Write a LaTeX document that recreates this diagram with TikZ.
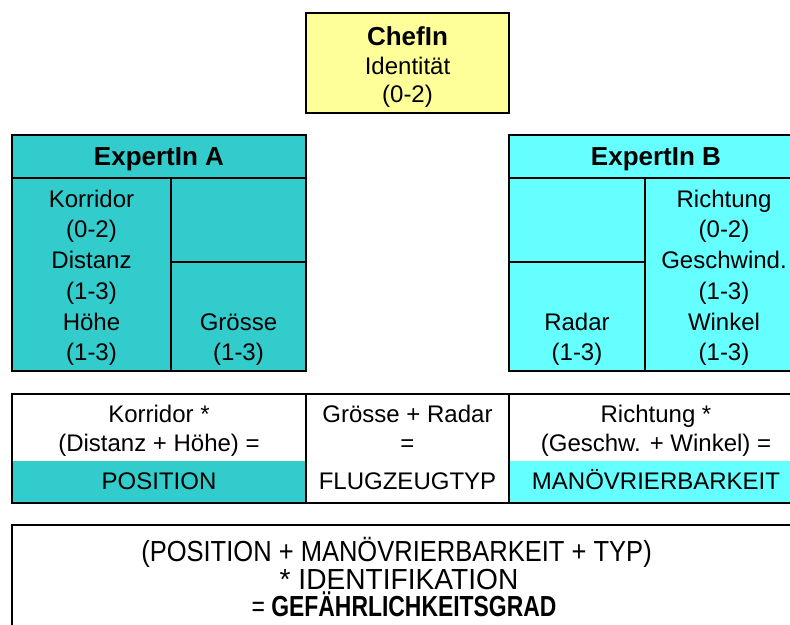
\documentclass[tikz,border=0pt]{standalone}
\usepackage{fontspec}
\usepackage{graphicx}
\setmainfont{Liberation Sans}
\definecolor{chefyellow}{HTML}{FFFF99}
\definecolor{expertA}{HTML}{33CCCC}
\definecolor{expertB}{HTML}{66FFFF}

\begin{document}
\begin{tikzpicture}[x=1pt,y=-1pt,
  frame/.style={draw=black, line width=1.5pt},
  divider/.style={draw=black, line width=1.4pt},
  txt/.style={anchor=base, inner sep=0pt, font=\fontsize{24}{30}\selectfont},
  head/.style={anchor=base, inner sep=0pt, font=\fontsize{26}{31}\selectfont\bfseries},
  sumtxt/.style={anchor=base, inner sep=0pt, font=\fontsize{29}{30}\selectfont},
]
\useasboundingbox (0,0) rectangle (790,624);
\clip (0,0) rectangle (790,624);

% --- ChefIn ---
\draw[frame, fill=chefyellow] (306,13) rectangle (509,113);
\node[head] (chef) at (407.5,45) {ChefIn};
\node[txt] (chef-id) at (407.5,74) {Identität};
\node[txt] (chef-r) at (407.5,102) {(0-2)};

% --- ExpertIn A ---
\draw[frame, fill=expertA] (12,135) rectangle (306,371);
\draw[divider] (12,178) -- (306,178);
\draw[divider] (171,178) -- (171,371);
\draw[divider] (171,262) -- (306,262);
\node[head] (expA) at (159,165) {ExpertIn A};
\node[txt] (a-kor) at (91.5,207) {Korridor};
\node[txt] (a-kor-r) at (91.5,237) {(0-2)};
\node[txt] (a-dist) at (91.5,268) {Distanz};
\node[txt] (a-dist-r) at (91.5,299) {(1-3)};
\node[txt] (a-hoehe) at (91.5,330) {Höhe};
\node[txt] (a-hoehe-r) at (91.5,360) {(1-3)};
\node[txt] (a-gr) at (238.5,330) {Grösse};
\node[txt] (a-gr-r) at (238.5,360) {(1-3)};

% --- ExpertIn B ---
\draw[frame, fill=expertB] (509,135) rectangle (803,371);
\draw[divider] (509,178) -- (803,178);
\draw[divider] (645,178) -- (645,371);
\draw[divider] (509,262) -- (645,262);
\node[head] (expB) at (656,165) {ExpertIn B};
\node[txt] (b-ri) at (724,207) {Richtung};
\node[txt] (b-ri-r) at (724,237) {(0-2)};
\node[txt] (b-ge) at (724,268) {Geschwind.};
\node[txt] (b-ge-r) at (724,299) {(1-3)};
\node[txt] (b-wi) at (724,330) {Winkel};
\node[txt] (b-wi-r) at (724,360) {(1-3)};
\node[txt] (b-ra) at (577,330) {Radar};
\node[txt] (b-ra-r) at (577,360) {(1-3)};

% --- Combination table ---
\fill[white] (12,394) rectangle (803,503);
\fill[expertA] (12,461) rectangle (306,503);
\fill[expertB] (509,461) rectangle (803,503);
\draw[frame] (12,394) rectangle (803,503);
\draw[divider] (306,394) -- (306,503);
\draw[divider] (509,394) -- (509,503);
\node[txt] (t-pos1) at (159,422) {Korridor *};
\node[txt] (t-pos2) at (159,451) {(Distanz + Höhe) =};
\node[txt] (t-pos) at (159,489) {POSITION};
\node[txt] (t-typ1) at (407.5,422) {Grösse + Radar};
\node[txt] (t-typ2) at (407.5,451) {=};
\node[txt] (t-typ) at (407.5,489) {FLUGZEUGTYP};
\node[txt] (t-man1) at (656,422) {Richtung *};
\node[txt] (t-man2) at (656,451) {(Geschw. + Winkel) =};
\node[txt] (t-man) at (656,489) {MANÖVRIERBARKEIT};

% --- Result ---
\draw[frame] (12,525) rectangle (803,640);
\node[sumtxt] (sum1) at (396.5,561) {\scalebox{0.88}[1]{(POSITION + MANÖVRIERBARKEIT + TYP)}};
\node[sumtxt] (sum2) at (399,589) {\scalebox{0.97}[1]{* IDENTIFIKATION}};
\node[sumtxt] (sum3) at (404,616) {\scalebox{0.79}[1]{= \bfseries GEFÄHRLICHKEITSGRAD}};
\end{tikzpicture}
\end{document}
